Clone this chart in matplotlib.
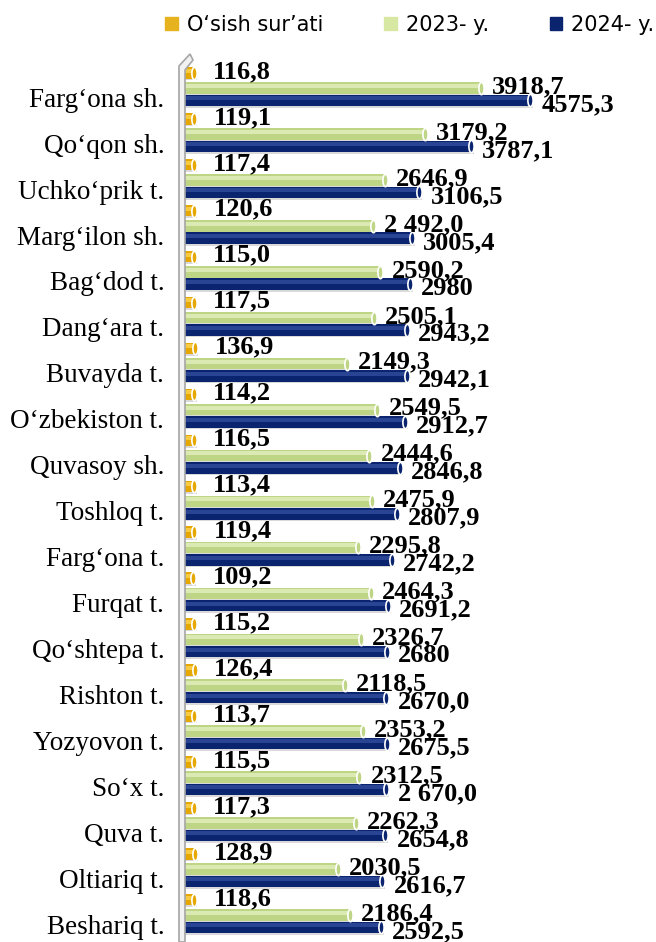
import matplotlib.pyplot as plt
from matplotlib.patches import Patch, Polygon
from matplotlib.path import Path
from matplotlib.transforms import Affine2D
import numpy as np

# Ma'lumotlar
hududlar = ['Farg‘ona sh.', 'Qo‘qon sh.', 'Uchko‘prik t.', 'Marg‘ilon sh.', 'Bag‘dod t.',
            'Dang‘ara t.', 'Buvayda t.', 'O‘zbekiston t.', 'Quvasoy sh.', 'Toshloq t.',
            'Farg‘ona t.', 'Furqat t.', 'Qo‘shtepa t.', 'Rishton t.', 'Yozyovon t.',
            'So‘x t.', 'Quva t.', 'Oltiariq t.', 'Beshariq t.']
osish = ['116,8', '119,1', '117,4', '120,6', '115,0', '117,5', '136,9', '114,2', '116,5', '113,4',
         '119,4', '109,2', '115,2', '126,4', '113,7', '115,5', '117,3', '128,9', '118,6']
y2023 = ['3918,7', '3179,2', '2646,9', '2 492,0', '2590,2', '2505,1', '2149,3', '2549,5', '2444,6',
         '2475,9', '2295,8', '2464,3', '2326,7', '2118,5', '2353,2', '2312,5', '2262,3', '2030,5',
         '2186,4']
y2024 = ['4575,3', '3787,1', '3106,5', '3005,4', '2980', '2943,2', '2942,1', '2912,7', '2846,8',
         '2807,9', '2742,2', '2691,2', '2680', '2670,0', '2675,5', '2 670,0', '2654,8', '2616,7',
         '2592,5']


def son(s):
    return float(s.replace(' ', '').replace(',', '.'))


seriyalar = [
    # (matnlar, siljish, rang, yorug' rang, yozuv siljishi)
    (osish, -0.33, '#E6A800', '#FFD95A', 14, 1),
    (y2023, 0.0, '#BDD584', '#E9F3C6', 8, 1),
    (y2024, 0.27, '#0A2470', '#3553A3', 8, -3),
]

fig = plt.figure(figsize=(6.56, 9.42), dpi=100)
ax = fig.add_axes([185 / 656, 0, (649 - 185) / 656, 882 / 942])

y = np.arange(len(hududlar))
h = 0.25
# ellips ko'rinishidagi uch (silindr effekti)
ellips = Path.unit_circle().transformed(Affine2D().scale(0.42, 1.0))

for matnlar, d, rang, yorug, dx, dy in seriyalar:
    qiymat = np.array([son(s) for s in matnlar])
    # soya
    ax.barh(y + d + 0.035, qiymat + 40, height=h, color='#D9D9D9', zorder=1)
    ax.barh(y + d, qiymat, height=h, color=rang, zorder=2)
    ax.barh(y + d - 0.045, qiymat, height=h * 0.35, color=yorug, alpha=0.7, zorder=3)
    ax.scatter(qiymat, y + d, marker=ellips, s=80, facecolor=rang, edgecolor='white',
               linewidth=1.2, zorder=4)
    for yi, v, s in zip(y, qiymat, matnlar):
        ax.annotate(s, (v, yi + d), xytext=(dx, dy), textcoords='offset points',
                    ha='left', va='center', fontsize=19, fontweight='bold',
                    family='Liberation Serif', zorder=5)

ax.set_xlim(0, 6150)
ax.set_ylim(len(hududlar) - 0.41, -0.61)
ax.set_yticks(y + 0.2)
ax.set_yticklabels(hududlar, fontsize=19.5, family='Liberation Serif')
ax.tick_params(axis='y', length=0, pad=15)
ax.set_xticks([])
for sp in ['top', 'right', 'bottom', 'left']:
    ax.spines[sp].set_visible(False)

# chap devor (3D)
devor = Polygon([(179, 0), (179, 876), (190, 888), (193, 882), (185, 872), (185, 0)],
                closed=True, facecolor='#F2F2F2', edgecolor='#A6A6A6', lw=1.2,
                transform=None, zorder=0)
fig.patches.append(devor)

# Legenda
belgilar = [Patch(color='#E6B21E'), Patch(color='#D7E8A2'), Patch(color='#0A2470')]
fig.legend(belgilar, ['O‘sish sur’ati', '2023- y.', '2024- y.'], loc='upper right',
           bbox_to_anchor=(1.02, 1.0), ncol=3, frameon=False, fontsize=15,
           handlelength=0.6, handleheight=0.6, handletextpad=0.45, columnspacing=2.9,
           borderaxespad=0.3)

plt.savefig('out.png', dpi=100)
